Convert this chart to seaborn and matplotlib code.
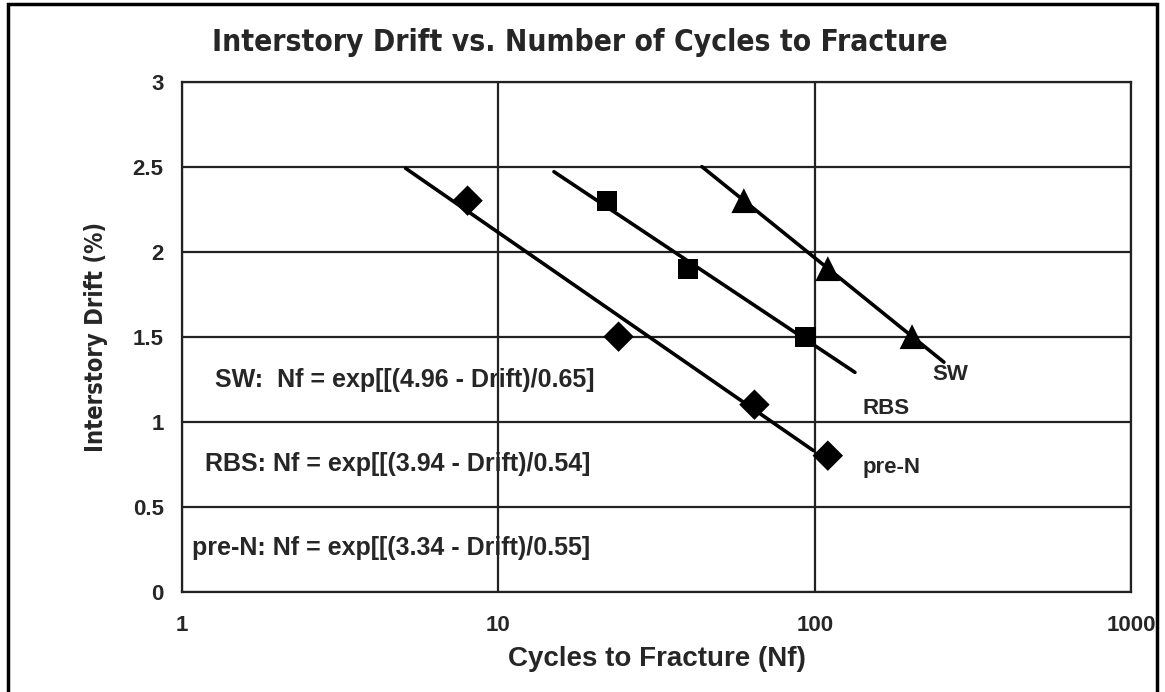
import numpy as np
import pandas as pd

import matplotlib
matplotlib.use('Agg')
import matplotlib.pyplot as plt
from matplotlib.patches import Rectangle
import seaborn as sns

# measured data points (cycles to fracture, drift %)
pre_n_cycles = [8, 24, 64.5, 110]
pre_n_drift = [2.3, 1.5, 1.1, 0.8]
rbs_cycles = [22, 39.7, 93.5]
rbs_drift = [2.3, 1.9, 1.5]
sw_cycles = [59.7, 110, 203]
sw_drift = [2.3, 1.9, 1.5]

# fitted trend lines, end points
pre_n_fit_cycles = [5.1, 99]
pre_n_fit_drift = [2.49, 0.83]
rbs_fit_cycles = [15, 134]
rbs_fit_drift = [2.47, 1.29]
sw_fit_cycles = [44, 256]
sw_fit_drift = [2.50, 1.35]

series_names = ['pre-N', 'RBS', 'SW']
equations = ['pre-N: Nf = exp[[(3.34 - Drift)/0.55]',
             'RBS: Nf = exp[[(3.94 - Drift)/0.54]',
             'SW:  Nf = exp[[(4.96 - Drift)/0.65]']

x_ticks = [1, 10, 100, 1000]
x_tick_labels = ['1', '10', '100', '1000']
y_ticks = [0, 0.5, 1, 1.5, 2, 2.5, 3]
y_tick_labels = ['0', '0.5', '1', '1.5', '2', '2.5', '3']

sns.set_style('white')
bold_family = ['Liberation Sans', 'DejaVu Sans']
plt.rcParams['font.family'] = bold_family

points = pd.DataFrame({
    'cycles': pre_n_cycles + rbs_cycles + sw_cycles,
    'drift': pre_n_drift + rbs_drift + sw_drift,
    'series': ['pre-N'] * len(pre_n_cycles) + ['RBS'] * len(rbs_cycles) + ['SW'] * len(sw_cycles),
})
fits = pd.DataFrame({
    'cycles': pre_n_fit_cycles + rbs_fit_cycles + sw_fit_cycles,
    'drift': pre_n_fit_drift + rbs_fit_drift + sw_fit_drift,
    'series': ['pre-N'] * 2 + ['RBS'] * 2 + ['SW'] * 2,
})

fig = plt.figure(figsize=(11.65, 6.92), dpi=100)
ax = fig.add_axes([0.156, 0.145, 0.815, 0.737])

black = {'pre-N': 'black', 'RBS': 'black', 'SW': 'black'}
sns.lineplot(data=fits, x='cycles', y='drift', hue='series', palette=black,
             units='series', estimator=None, lw=2.6, legend=False, ax=ax)
sns.scatterplot(data=points, x='cycles', y='drift', hue='series', style='series',
                size='series', sizes={'pre-N': 240, 'RBS': 210, 'SW': 320},
                palette=black, markers={'pre-N': 'D', 'RBS': 's', 'SW': '^'},
                edgecolor='black', linewidth=0, legend=False, ax=ax)

ax.set_xscale('log')
ax.set_xlim(1, 1000)
ax.set_ylim(0, 3)
ax.set_xticks(x_ticks)
ax.set_xticklabels(x_tick_labels)
ax.set_yticks(y_ticks)
ax.set_yticklabels(y_tick_labels)
ax.minorticks_off()
ax.tick_params(axis='both', direction='out', length=7, width=1.5, color='black',
               labelsize=16, pad=6)
ax.tick_params(axis='x', pad=10)
for lab in ax.get_xticklabels() + ax.get_yticklabels():
    lab.set_fontweight('bold')
ax.grid(True, color='#222222', lw=1.6)
ax.set_axisbelow(True)
for sp in ax.spines.values():
    sp.set_color('#222222')
    sp.set_linewidth(1.6)

ax.set_xlabel('Cycles to Fracture (Nf)', fontsize=20, fontweight='bold', labelpad=7)
ax.set_ylabel('Interstory Drift (%)', fontsize=17, family=['DejaVu Sans'],
              fontstretch='condensed', fontweight='bold', labelpad=18)

# equation boxes
eq_pos = [(1.078, 0.257), (1.185, 0.75), (1.27, 1.245)]
for txt, (x, y) in zip(equations, eq_pos):
    ax.text(x, y, txt, fontsize=18, fontweight='bold', va='center', ha='left')

# series labels
label_pos = [(141.5, 0.73), (141.5, 1.08), (235, 1.275)]
for txt, (x, y) in zip(series_names, label_pos):
    ax.text(x, y, txt, fontsize=16, fontweight='bold', va='center', ha='left')

fig.text(0.498, 0.938, 'Interstory Drift vs. Number of Cycles to Fracture',
         fontsize=21.5, family=['DejaVu Sans'], fontstretch='condensed',
         fontweight='bold', ha='center', va='center')

fig.patches.append(Rectangle((8 / 1165, -0.05), 1149 / 1165, 1 - 4 / 692 + 0.05,
                             transform=fig.transFigure, fill=False,
                             edgecolor='black', lw=2.5))

fig.savefig('out.png', dpi=100)
